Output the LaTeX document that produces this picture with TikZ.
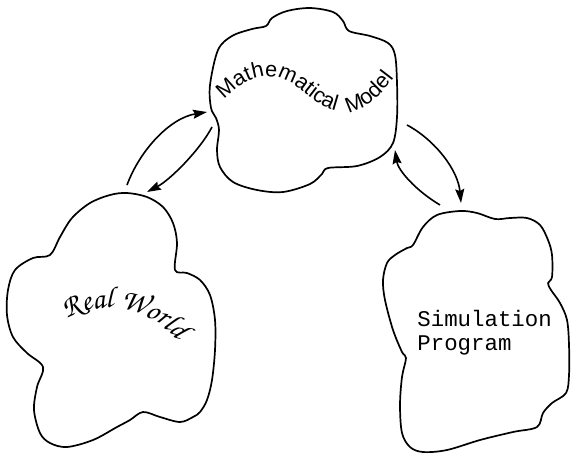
\documentclass[tikz,border=0pt]{standalone}
\usepackage[T1]{fontenc}
\usepackage{fontspec}
\usetikzlibrary{arrows.meta,decorations.text}
\newfontfamily\mathfnt{Liberation Sans}
\newfontfamily\simfnt{Liberation Mono}
\newcommand\rwfnt{\fontencoding{T1}\fontfamily{pzc}\fontseries{mb}\fontshape{it}\selectfont}
\tikzset{
  cloud outline/.style={draw=black, line width=0.85pt, line join=round},
  link/.style={draw=black, line width=0.8pt, -{Stealth[length=7pt,width=4.5pt,inset=1pt]}},
}
\begin{document}
\begin{tikzpicture}[x=0.5pt,y=-0.5pt]
\useasboundingbox (0,0) rectangle (571,455);
% Mathematical Model cloud
\draw[cloud outline] plot[smooth cycle, tension=0.55] coordinates {
 (218,50) (232,36) (252,29) (266,26) (272,18) (287,11) (310,8) (333,12) (343,21)
 (349,31) (370,36) (388,43) (395,55) (397,83) (397,117) (393,143) (380,157)
 (357,166) (328,168) (322,174) (310,184) (283,192) (257,190) (233,182) (220,167)
 (217,150) (219,130) (216,118) (211,108) (210,85)};
% Real World cloud
\draw[cloud outline] plot[smooth cycle, tension=0.55] coordinates {
 (110,195) (127,193) (147,197) (163,207) (173,223) (177,243) (175,270) (187,273)
 (200,280) (210,295) (215,320) (215,350) (212,380) (207,400) (200,412) (193,417)
 (180,422) (160,417) (143,412) (130,420) (117,427) (93,440) (67,447) (50,443)
 (40,433) (34,410) (37,387) (43,367) (27,353) (13,337) (7,315) (8,290) (15,270)
 (33,258) (50,255) (60,237) (72,218) (90,203)};
% Simulation Program cloud
\draw[cloud outline] plot[smooth cycle, tension=0.55] coordinates {
 (413,245) (423,227) (437,215) (460,211) (477,213) (495,219) (510,218) (527,218)
 (540,225) (548,240) (552,255) (552,277) (548,283) (551,290) (560,303) (567,320)
 (569,345) (569,375) (566,393) (552,403) (543,413) (537,427) (513,432) (480,440)
 (447,450) (423,452) (410,447) (402,433) (400,405) (402,377) (406,358) (402,352)
 (393,330) (385,300) (383,280) (387,263) (395,255) (407,248)};
% labels
\path[decorate, decoration={text along path, text align=left,
  text={|\mathfnt\fontsize{10.8}{12}\selectfont|Mathematical}}]
  (224,100) .. controls (245,78) and (265,72) .. (285,80)
  .. controls (304,88) and (317,110) .. (344,112);
\path[decorate, decoration={text along path, text align=center,
  text={|\mathfnt\fontsize{10.8}{12}\selectfont|Model}}]
  (345,113) .. controls (363,112) and (380,97) .. (396,75);
\path[decorate, decoration={text along path, text align=center,
  text={|\rwfnt\fontsize{15}{17}\selectfont|Real World}}]
  (61,323) arc[start angle=-125, end angle=-33, radius=85];
\node[anchor=base west, inner sep=0pt, align=left,
  font=\simfnt\fontsize{11.2}{12}\selectfont] (sim) at (417,350) {Simulation\\Program};
% arrow end points
\coordinate (rwTop) at (127,185);
\coordinate (mmLeftIn) at (207,112);
\coordinate (mmLeftOut) at (212,127);
\coordinate (rwTopIn) at (147,192);
\coordinate (mmRightOut) at (407,125);
\coordinate (spTopIn) at (461,203);
\coordinate (spTopOut) at (440,205);
\coordinate (mmRightIn) at (395,150);
\draw[link] (rwTop) .. controls (140,150) and (170,118) .. (mmLeftIn);
\draw[link] (mmLeftOut) .. controls (200,150) and (170,180) .. (rwTopIn);
\draw[link] (mmRightOut) .. controls (435,140) and (458,170) .. (spTopIn);
\draw[link] (spTopOut) .. controls (415,190) and (398,170) .. (mmRightIn);
\end{tikzpicture}
\end{document}
